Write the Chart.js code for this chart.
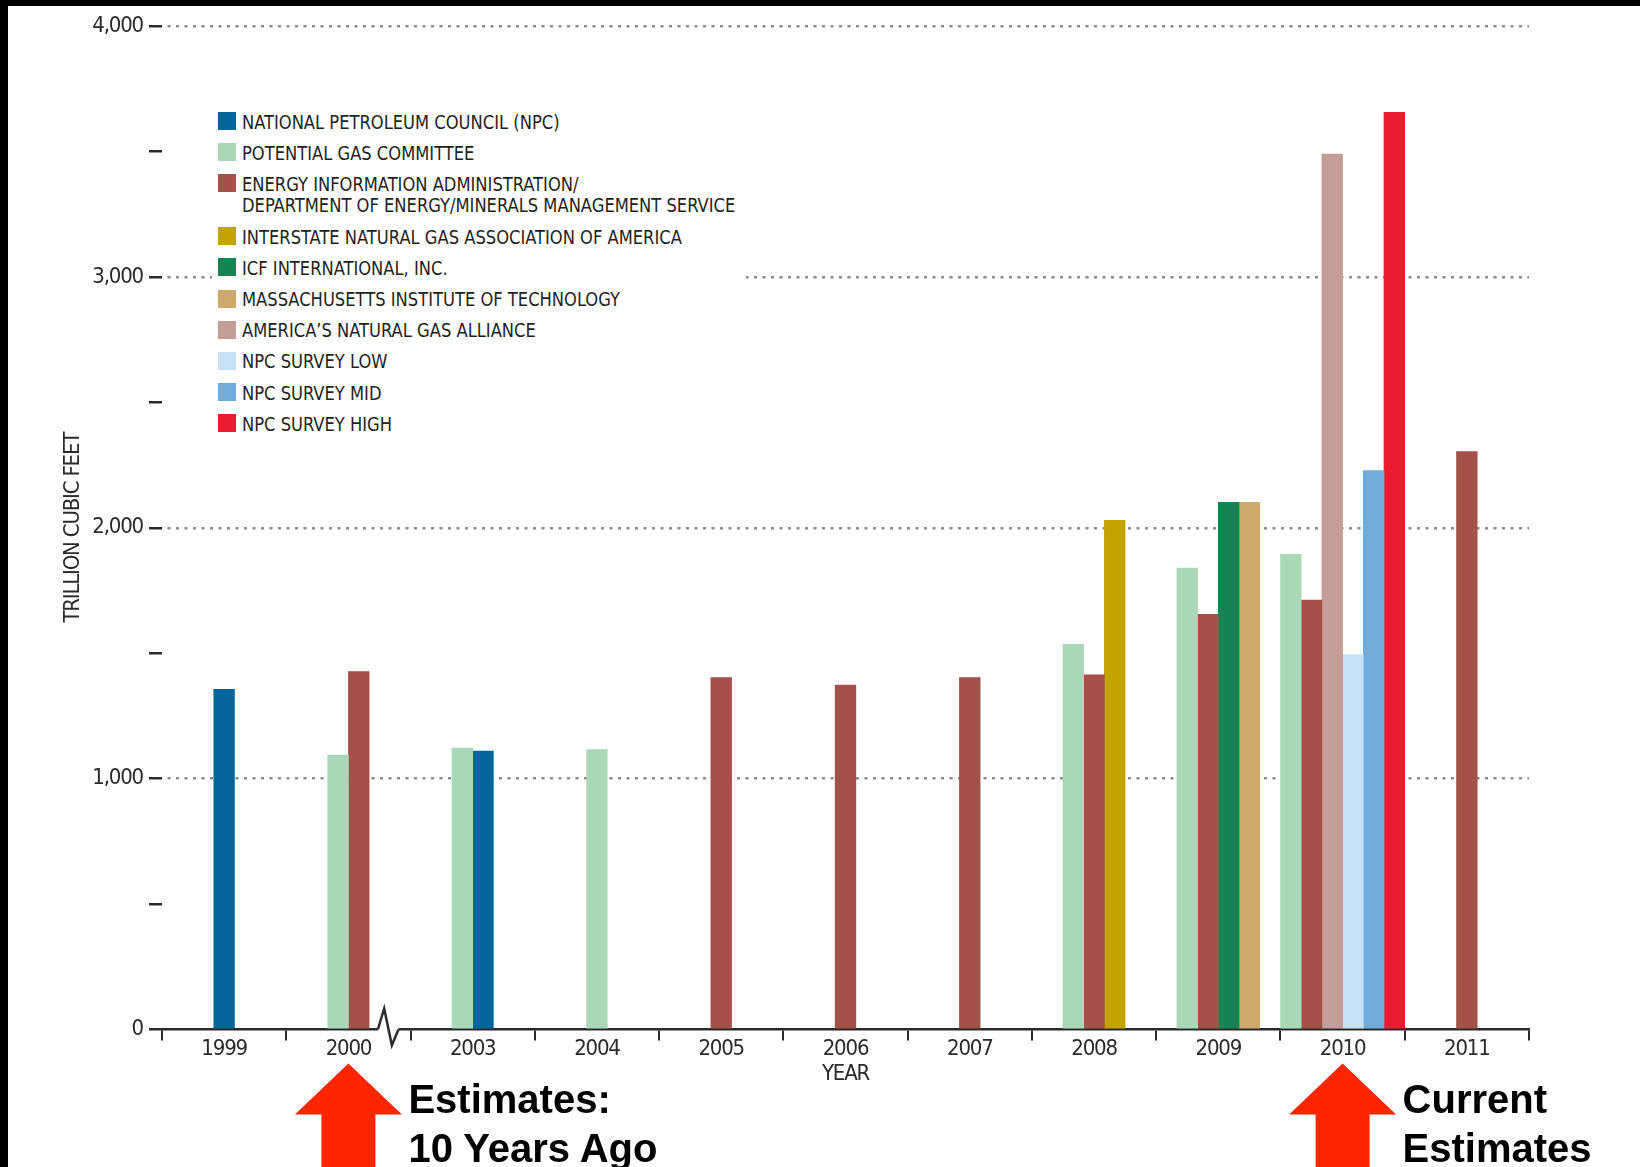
<!DOCTYPE html>
<html>
<head>
<meta charset="utf-8">
<script src="https://cdn.jsdelivr.net/npm/chart.js@4.4.0/dist/chart.umd.min.js"></script>
<style>
  html, body { margin: 0; padding: 0; background: #fff; }
  #wrap { position: relative; width: 1640px; height: 1167px; overflow: hidden; background: #fff; }
  #chart { position: absolute; left: 0; top: 0; }
  .band { position: absolute; background: #000; z-index: 5; }
  #legend {
    position: absolute; left: 212px; top: 106.6px; width: 534px; padding-top: 5px;
    background: #fff; color: #231f20; font-size: 20px;
    font-family: 'Liberation Sans Narrow', 'Arial Narrow', 'DejaVu Sans Condensed', sans-serif;
  }
  .item { display: flex; align-items: flex-start; margin-left: 5.7px; margin-bottom: 9.7px; line-height: 21.5px; }
  .swatch { width: 18px; height: 18px; margin-top: 0.5px; margin-right: 6px; flex: none; }
  .item span { white-space: pre; display: inline-block; transform: scaleX(0.908); transform-origin: 0 0; }
  .note { position: absolute; font: bold 40px 'Liberation Sans', Arial, sans-serif; line-height: 49px; color: #000; white-space: pre; }
</style>
</head>
<body>
<div id="wrap">
  <canvas id="chart" width="1640" height="1167"></canvas>
  <div id="legend"></div>
  <div class="band" style="left:0;top:0;width:8px;height:1167px"></div>
  <div class="band" style="left:0;top:0;width:1640px;height:6px"></div>
</div>
<script>
// years on the axis (2001 and 2002 are cut out by the axis break)
const years = ['1999', '2000', '2003', '2004', '2005', '2006', '2007', '2008', '2009', '2010', '2011'];

// trillion cubic feet
const npc   = [1356, null, 1110, null, null, null, null, null, null, null, null];
const pgc   = [null, 1094, 1122, 1116, null, null, null, 1535, 1839, 1894, null];
const eia   = [null, 1427, null, null, 1403, 1373, 1403, 1414, 1655, 1712, 2304];
const ingaa = [null, null, null, null, null, null, null, 2030, null, null, null];
const icf   = [null, null, null, null, null, null, null, null, 2101, null, null];
const mit   = [null, null, null, null, null, null, null, null, 2101, null, null];
const anga  = [null, null, null, null, null, null, null, null, null, 3489, null];
const npcLow  = [null, null, null, null, null, null, null, null, null, 1494, null];
const npcMid  = [null, null, null, null, null, null, null, null, null, 2228, null];
const npcHigh = [null, null, null, null, null, null, null, null, null, 3656, null];

const seriesNames = [
  'NATIONAL PETROLEUM COUNCIL (NPC)',
  'POTENTIAL GAS COMMITTEE',
  'ENERGY INFORMATION ADMINISTRATION/\nDEPARTMENT OF ENERGY/MINERALS MANAGEMENT SERVICE',
  'INTERSTATE NATURAL GAS ASSOCIATION OF AMERICA',
  'ICF INTERNATIONAL, INC.',
  'MASSACHUSETTS INSTITUTE OF TECHNOLOGY',
  'AMERICA\u2019S NATURAL GAS ALLIANCE',
  'NPC SURVEY LOW',
  'NPC SURVEY MID',
  'NPC SURVEY HIGH'
];
const seriesData = [npc, pgc, eia, ingaa, icf, mit, anga, npcLow, npcMid, npcHigh];
const seriesColors = ['#02669b', '#a8d8b7', '#a4514a', '#c2a300', '#168352', '#cfa96b', '#c49d98', '#c6e0f4', '#70acdb', '#ec1c2f'];

const yTicks = [0, 1000, 2000, 3000, 4000];
const notes = [
  { year: '2000', lines: 'Estimates:\n10 Years Ago' },
  { year: '2010', lines: 'Current\nEstimates' }
];

const NARROW = "'Liberation Sans Narrow', 'Arial Narrow', 'DejaVu Sans Condensed', sans-serif";
const INK = '#2b2b2b';

// legend (html so the two-line entry wraps like the original)
const legendEl = document.getElementById('legend');
seriesNames.forEach((name, i) => {
  const row = document.createElement('div');
  row.className = 'item';
  const sw = document.createElement('div');
  sw.className = 'swatch';
  sw.style.background = seriesColors[i];
  const txt = document.createElement('span');
  txt.textContent = name;
  row.appendChild(sw);
  row.appendChild(txt);
  legendEl.appendChild(row);
});

// the original type is a condensed face, squeeze the canvas text a little
const tightText = {
  id: 'tightText',
  beforeLayout(chart) { chart.ctx.letterSpacing = '-1.2px'; },
  beforeDraw(chart) { chart.ctx.letterSpacing = '-1.2px'; }
};

// axis break + red arrows
const extras = {
  id: 'extras',
  afterDraw(chart) {
    const { ctx, chartArea, scales: { x } } = chart;
    const base = chartArea.bottom;
    const bx = x.getPixelForValue(1.32);
    ctx.save();
    ctx.fillStyle = '#fff';
    ctx.fillRect(bx - 10.3, base - 3, 20.6, 6);
    ctx.strokeStyle = INK;
    ctx.lineWidth = 2.5;
    ctx.beginPath();
    ctx.moveTo(bx - 10.3, base);
    ctx.lineTo(bx - 4, base - 21);
    ctx.lineTo(bx + 3.7, base + 15.7);
    ctx.lineTo(bx + 10.3, base);
    ctx.stroke();

    ctx.fillStyle = '#ff2600';
    notes.forEach(n => {
      const cx = x.getPixelForValue(years.indexOf(n.year));
      const tip = base + 34, head = base + 85;
      ctx.beginPath();
      ctx.moveTo(cx, tip);
      ctx.lineTo(cx + 53.5, head);
      ctx.lineTo(cx + 27, head);
      ctx.lineTo(cx + 27, chart.height);
      ctx.lineTo(cx - 27, chart.height);
      ctx.lineTo(cx - 27, head);
      ctx.lineTo(cx - 53.5, head);
      ctx.closePath();
      ctx.fill();
    });
    ctx.restore();
  }
};

const chart = new Chart(document.getElementById('chart'), {
  type: 'bar',
  data: {
    labels: years,
    datasets: seriesNames.map((name, i) => ({
      label: name,
      data: seriesData[i],
      backgroundColor: seriesColors[i],
      // PGC sits left of NPC inside a year group
      order: i === 1 ? 0 : 1
    }))
  },
  options: {
    responsive: false,
    animation: false,
    events: [],
    layout: { padding: { left: 0, right: 111, top: 26, bottom: 0 } },
    plugins: { legend: { display: false }, tooltip: { enabled: false } },
    datasets: { bar: { skipNull: true, barThickness: 20.7, borderWidth: 0 } },
    scales: {
      x: {
        z: 1,
        offset: true,
        grid: { drawOnChartArea: false, offset: true, tickLength: 11, color: INK, lineWidth: 2 },
        border: { display: true, color: INK, width: 2.5 },
        ticks: { padding: -4.5, color: INK, font: { family: NARROW, size: 22 }, maxRotation: 0, autoSkip: false },
        title: { display: true, text: 'YEAR', color: INK, font: { family: NARROW, size: 22 }, padding: { top: 0, bottom: 80 } },
        afterFit: s => { s.height = 137.5; }
      },
      y: {
        min: 0,
        max: 4000,
        ticks: {
          stepSize: 500,
          padding: 6,
          autoSkip: false,
          color: INK,
          font: { family: NARROW, size: 22 },
          callback: v => yTicks.includes(v) ? v.toLocaleString('en-US') : ''
        },
        grid: {
          color: c => (c.tick && c.tick.value > 0 && yTicks.includes(c.tick.value)) ? '#8c8c8c' : 'rgba(0,0,0,0)',
          lineWidth: 2.5,
          tickColor: INK,
          tickWidth: 2.5,
          tickLength: 13
        },
        border: { display: false, dash: [3, 5.5], dashOffset: 3 },
        title: { display: true, text: 'TRILLION CUBIC FEET', color: INK, font: { family: NARROW, size: 22 }, padding: { top: 60, bottom: 0 } },
        afterFit: s => { s.width = 162; }
      }
    }
  },
  plugins: [tightText, extras]
});

// annotation text next to the arrows
const xs = chart.scales.x;
const base = chart.chartArea.bottom;
notes.forEach(n => {
  const d = document.createElement('div');
  d.className = 'note';
  d.textContent = n.lines;
  d.style.left = (xs.getPixelForValue(years.indexOf(n.year)) + 60) + 'px';
  d.style.top = (base + 45) + 'px';
  document.getElementById('wrap').appendChild(d);
});
</script>
</body>
</html>
